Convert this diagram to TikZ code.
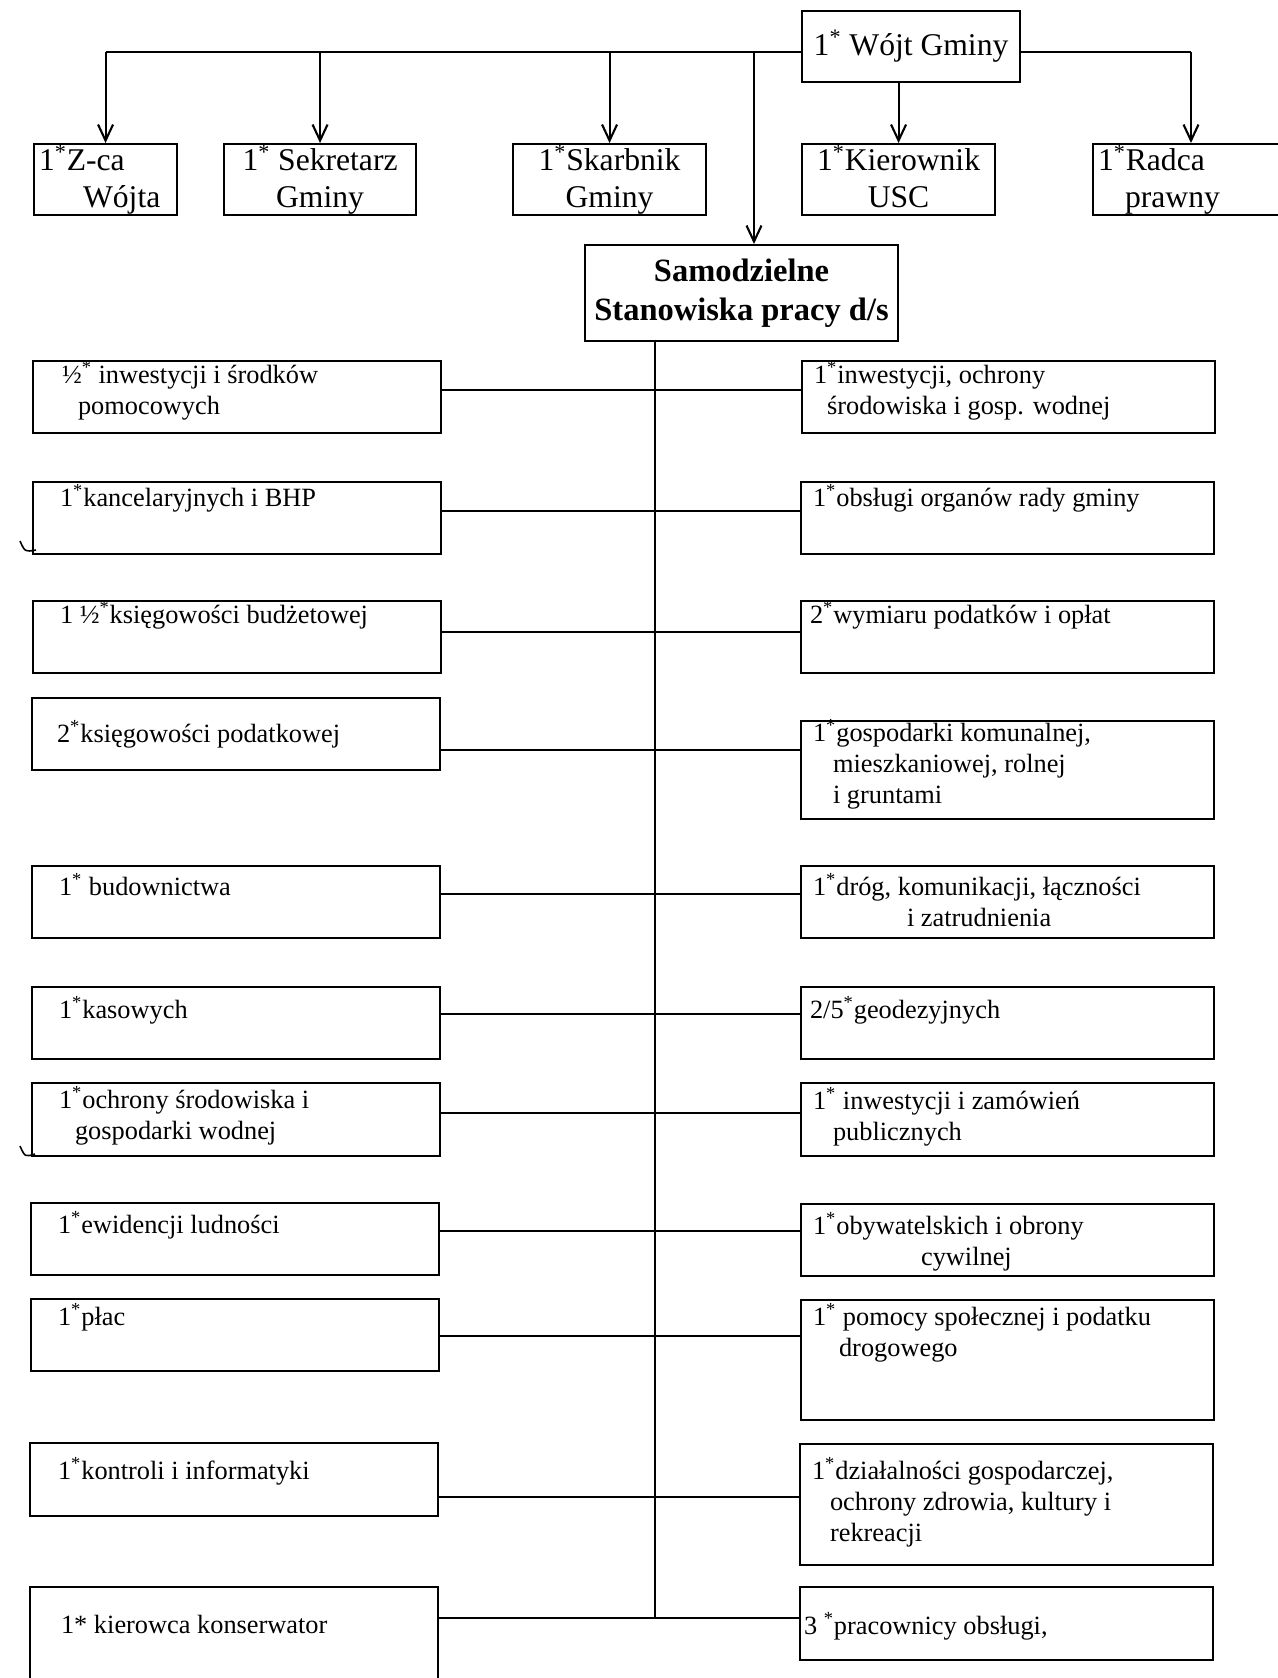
\documentclass[tikz,border=0pt]{standalone}
\usepackage{fontspec}
\setmainfont{Liberation Serif}
\usetikzlibrary{arrows.meta}
\newdimen\px
\px=0.02cm

\begin{document}
\begin{tikzpicture}[x=0.02cm, y=-0.02cm, line width=1.2pt,
                    box/.style={draw, rectangle, inner sep=0pt, anchor=north west},
                    topbox/.style={box, align=center, minimum height=71\px,
                                   font=\fontsize{18}{21.3}\selectfont},
                    lbox/.style={box, minimum width=408\px},
                    rbox/.style={box, minimum width=413\px},
                    txt/.style={anchor=base west, inner sep=0pt, align=left,
                                font=\fontsize{15}{17.6}\selectfont},
                    arr/.style={-{Straight Barb[length=3.2mm,width=3mm]}}]
\useasboundingbox (0,0) rectangle (1278,1678);

% kierownictwo
\node[topbox, minimum width=218\px] (wojt) at (801,10) {1\textsuperscript{*} Wójt Gminy};
\node[topbox, align=left, text width=133\px, inner xsep=5\px] (zca) at (33,143)
    {1\textsuperscript{*}Z-ca\\\hspace*{44\px}Wójta};
\node[topbox, minimum width=192\px] (sekr) at (223,143) {1\textsuperscript{*} Sekretarz\\Gminy};
\node[topbox, minimum width=193\px] (skarb) at (512,143) {1\textsuperscript{*}Skarbnik\\Gminy};
\node[topbox, minimum width=193\px] (kier) at (801,143) {1\textsuperscript{*}Kierownik\\USC\vphantom{y}};
\node[topbox, align=left, text width=195\px, inner xsep=5\px] (radca) at (1092,143)
    {1\textsuperscript{*}Radca\\\hspace*{27\px}prawny};
\node[box, align=center, minimum width=313\px, minimum height=96\px,
      font=\fontsize{18.5}{21.9}\selectfont\bfseries] (samo) at (584,244)
    {Samodzielne\\Stanowiska pracy d/s};

\coordinate (h) at (0,52);
\draw (zca.north |- h) -- (wojt.west |- h);
\draw (wojt.east |- h) -- ([xshift=99\px]radca.north west |- h);
\foreach \n in {zca,sekr,skarb}
    \draw[arr] (\n.north |- h) -- (\n.north);
\draw[arr] ([xshift=99\px]radca.north west |- h) -- ([xshift=99\px]radca.north west);
\draw[arr] (kier.north |- wojt.south) -- (kier.north);
\draw[arr] ([xshift=170\px]samo.north west |- h) -- ([xshift=170\px]samo.north west);

% stanowiska - lewa strona (base = ostatnia linia)
\node[lbox, minimum height=72\px] (l1) at (32,360) {};
\node[txt] (l1t) at ([shift={(29,54)}]l1.north west)
    {½\textsuperscript{*} inwestycji i środków\\\hspace*{16\px}pomocowych};
\node[lbox, minimum height=72\px] (l2) at (32,481) {};
\node[txt] (l2t) at ([shift={(27,25)}]l2.north west) {1\textsuperscript{*}kancelaryjnych i BHP};
\node[lbox, minimum height=72\px] (l3) at (32,600) {};
\node[txt] (l3t) at ([shift={(27,23)}]l3.north west) {1 ½\textsuperscript{*}księgowości budżetowej};
\node[lbox, minimum height=72\px] (l4) at (31,697) {};
\node[txt] (l4t) at ([shift={(25,45)}]l4.north west) {2\textsuperscript{*}księgowości podatkowej};
\node[lbox, minimum height=72\px] (l5) at (31,865) {};
\node[txt] (l5t) at ([shift={(27,30)}]l5.north west) {1\textsuperscript{*} budownictwa};
\node[lbox, minimum height=72\px] (l6) at (31,986) {};
\node[txt] (l6t) at ([shift={(27,32)}]l6.north west) {1\textsuperscript{*}kasowych};
\node[lbox, minimum height=73\px] (l7) at (31,1082) {};
\node[txt] (l7t) at ([shift={(27,57)}]l7.north west)
    {1\textsuperscript{*}ochrony środowiska i\\\hspace*{16\px}gospodarki wodnej};
\node[lbox, minimum height=72\px] (l8) at (30,1202) {};
\node[txt] (l8t) at ([shift={(27,31)}]l8.north west) {1\textsuperscript{*}ewidencji ludności};
\node[lbox, minimum height=72\px] (l9) at (30,1298) {};
\node[txt] (l9t) at ([shift={(27,27)}]l9.north west) {1\textsuperscript{*}płac};
\node[lbox, minimum height=73\px] (l10) at (29,1442) {};
\node[txt] (l10t) at ([shift={(28,37)}]l10.north west) {1\textsuperscript{*}kontroli i informatyki};
\node[lbox, minimum height=130\px] (l11) at (29,1586) {};
\node[txt] (l11t) at ([shift={(31,47)}]l11.north west) {1* kierowca konserwator};

% stanowiska - prawa strona
\node[rbox, minimum height=72\px] (r1) at (801,360) {};
\node[txt] (r1t) at ([shift={(12,54)}]r1.north west)
    {1\textsuperscript{*}inwestycji, ochrony\\\hspace*{13\px}środowiska i gosp. wodnej};
\node[rbox, minimum height=72\px] (r2) at (800,481) {};
\node[txt] (r2t) at ([shift={(12,25)}]r2.north west) {1\textsuperscript{*}obsługi organów rady gminy};
\node[rbox, minimum height=72\px] (r3) at (800,600) {};
\node[txt] (r3t) at ([shift={(9,23)}]r3.north west) {2\textsuperscript{*}wymiaru podatków i opłat};
\node[rbox, minimum height=98\px] (r4) at (800,720) {};
\node[txt] (r4t) at ([shift={(12,83)}]r4.north west)
    {1\textsuperscript{*}gospodarki komunalnej,\\\hspace*{20\px}mieszkaniowej, rolnej\\\hspace*{20\px}i gruntami};
\node[rbox, minimum height=72\px] (r5) at (800,865) {};
\node[txt] (r5t) at ([shift={(12,61)}]r5.north west)
    {1\textsuperscript{*}dróg, komunikacji, łączności\\\hspace*{94\px}i zatrudnienia};
\node[rbox, minimum height=72\px] (r6) at (800,986) {};
\node[txt] (r6t) at ([shift={(9,32)}]r6.north west) {2/5\textsuperscript{*}geodezyjnych};
\node[rbox, minimum height=73\px] (r7) at (800,1082) {};
\node[txt] (r7t) at ([shift={(12,58)}]r7.north west)
    {1\textsuperscript{*} inwestycji i zamówień\\\hspace*{20\px}publicznych};
\node[rbox, minimum height=72\px] (r8) at (800,1203) {};
\node[txt] (r8t) at ([shift={(12,62)}]r8.north west)
    {1\textsuperscript{*}obywatelskich i obrony\\\hspace*{108\px}cywilnej};
\node[rbox, minimum height=120\px] (r9) at (800,1299) {};
\node[txt] (r9t) at ([shift={(12,57)}]r9.north west)
    {1\textsuperscript{*} pomocy społecznej i podatku\\\hspace*{26\px}drogowego};
\node[rbox, minimum height=121\px] (r10) at (799,1443) {};
\node[txt] (r10t) at ([shift={(12,98)}]r10.north west)
    {1\textsuperscript{*}działalności gospodarczej,\\\hspace*{18\px}ochrony zdrowia, kultury i\\\hspace*{18\px}rekreacji};
\node[rbox, minimum height=73\px] (r11) at (799,1586) {};
\node[txt] (r11t) at ([shift={(4,48)}]r11.north west) {3 \textsuperscript{*}pracownicy obsługi,};

% polaczenia
\foreach \n/\y in {1/390,2/511,3/632,4/750,5/894,6/1014,7/1113,8/1231,9/1336,10/1497,11/1618}{
    \coordinate (c\n) at (655,\y);
    \draw (l\n.east |- c\n) -- (r\n.west |- c\n);
}
\draw (samo.south -| c1) -- (c11);

% slady na marginesie
\draw[line width=0.9pt] (20,541) .. controls (25,552) .. (36,550);
\draw[line width=0.9pt] (20,1146) .. controls (25,1157) .. (35,1154);
\end{tikzpicture}
\end{document}
